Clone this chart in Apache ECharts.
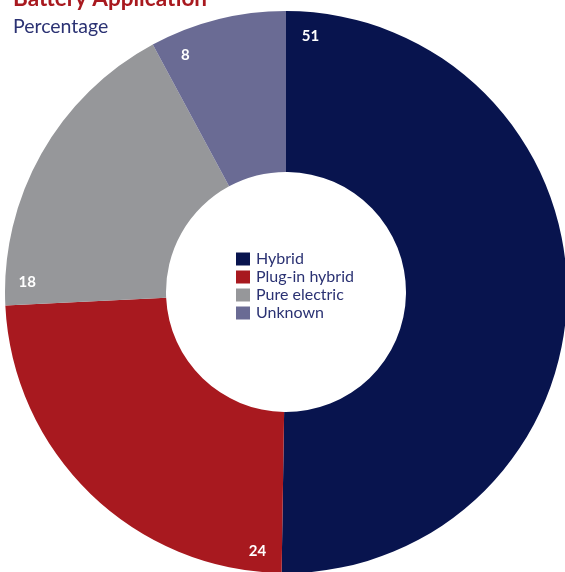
<!DOCTYPE html>
<html><head><meta charset="utf-8">
<script src="https://cdn.jsdelivr.net/npm/echarts@6/dist/echarts.min.js"></script>
<style>html,body{margin:0;padding:0;background:#fff}#c{width:565px;height:572px}</style>
</head><body><div id="c"></div>
<script>
const categories = ['Hybrid', 'Plug-in hybrid', 'Pure electric', 'Unknown'];
const values = [50.5, 24.1, 18, 7.9];
const colors = ['#08144E', '#A8191F', '#96979A', '#6A6B94'];

const chart = echarts.init(document.getElementById('c'));
const CX = 286, CY = 292, R0 = 120, R1 = 281;
const total = values.reduce((a, b) => a + b, 0);
const starts = [];
let acc = 0;
values.forEach(v => { starts.push(acc); acc += v; });

chart.setOption({
  animation: false,
  title: [
    { text: 'Battery Application', left: 13, top: -13, padding: 0,
      textStyle: { fontFamily: 'Lato', fontWeight: 'bold', fontSize: 22.5, color: '#A8191F' } },
    { text: 'Percentage', left: 13, top: 17, padding: 0,
      textStyle: { fontFamily: 'Lato', fontWeight: 'normal', fontSize: 19.5, color: '#2B3273' } }
  ],
  legend: {
    orient: 'vertical', left: 236, top: 251, padding: 0,
    itemWidth: 14, itemHeight: 13, itemGap: 2, icon: 'rect',
    textStyle: { fontFamily: 'Lato', fontSize: 16, color: '#2B3273', padding: [0, 0, 0, 1], lineHeight: 14 },
    data: categories
  },
  series: [{
    type: 'pie',
    center: [CX, CY],
    radius: [R0, R1],
    startAngle: 90,
    clockwise: true,
    avoidLabelOverlap: false,
    label: {
      show: true, position: 'inside', color: '#fff', fontFamily: 'Lato',
      fontWeight: 'bold', fontSize: 15,
      formatter: p => String(Math.round(p.value))
    },
    labelLine: { show: false },
    labelLayout: function (p) {
      const i = p.dataIndex;
      const ang = (starts[i] / total) * 2 * Math.PI + 0.095;
      const r = 259;
      return { x: CX + r * Math.sin(ang), y: CY + 2 - r * Math.cos(ang), align: 'center', verticalAlign: 'middle' };
    },
    emphasis: { disabled: true },
    data: categories.map((n, i) => ({ name: n, value: values[i], itemStyle: { color: colors[i] } }))
  }]
});
</script></body></html>
